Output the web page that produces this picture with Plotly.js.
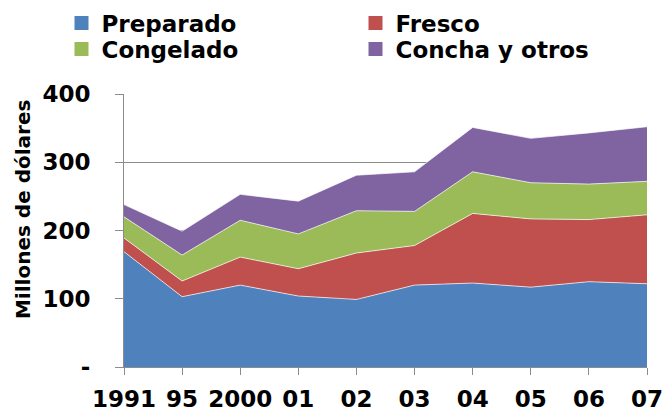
<!DOCTYPE html>
<html>
<head>
<meta charset="utf-8">
<script src="https://cdn.plot.ly/plotly-3.0.1.min.js"></script>
<style>
html,body{margin:0;padding:0;background:#fff;}
#chart{width:662px;height:414px;}
</style>
</head>
<body>
<div id="chart"></div>
<script>
var categories = ['1991', '95', '2000', '01', '02', '03', '04', '05', '06', '07'];
var preparado = [169, 103, 120, 104, 99, 120, 123, 117, 125, 122];
var fresco = [20, 23, 41, 40, 68, 58, 102, 100, 91, 101];
var congelado = [31, 38, 54, 51, 62, 50, 61, 53, 52, 49];
var concha = [18, 35, 38, 48, 52, 58, 65, 65, 75, 80];
var seriesNames = ['Preparado', 'Fresco', 'Congelado', 'Concha y otros'];
var yTickVals = [0, 100, 200, 300, 400];
var yTickText = ['-', '100', '200', '300', '400'];
var yTitle = 'Millones de dólares';

var colors = ['#4F81BD', '#C0504D', '#9BBB59', '#8064A2'];
var seriesValues = [preparado, fresco, congelado, concha];
var legendRows = ['legend', 'legend', 'legend2', 'legend2'];

var FONT = 'DejaVu Sans, Verdana, sans-serif';
var GRAY = '#8c8c8c';

var traces = [];
seriesValues.forEach(function (vals, i) {
  traces.push({
    type: 'scatter',
    mode: 'lines',
    x: categories,
    y: vals,
    stackgroup: 'one',
    name: seriesNames[i],
    line: {color: 'rgba(255,255,255,0.85)', width: 0.8},
    fillcolor: colors[i],
    showlegend: false,
    hoverinfo: 'x+y+name'
  });
});
// legend entries (square swatches)
seriesValues.forEach(function (vals, i) {
  traces.push({
    type: 'scatter',
    mode: 'markers',
    x: [null],
    y: [null],
    name: seriesNames[i],
    legend: legendRows[i],
    marker: {symbol: 'square', size: 14, color: colors[i]},
    showlegend: true,
    hoverinfo: 'skip'
  });
});

function legendRow(yPaper) {
  return {
    orientation: 'h',
    x: -0.1195,
    xanchor: 'left',
    y: yPaper,
    yanchor: 'middle',
    entrywidth: 249,
    itemwidth: 30,
    bgcolor: 'rgba(0,0,0,0)',
    font: {family: FONT, size: 23, color: '#000', weight: 'bold'},
    traceorder: 'normal'
  };
}

var layout = {
  width: 662,
  height: 414,
  margin: {l: 124, r: 15, t: 94, b: 47, autoexpand: false},
  paper_bgcolor: '#ffffff',
  plot_bgcolor: '#ffffff',
  font: {family: FONT, size: 23, color: '#000', weight: 'bold'},
  showlegend: true,
  legend: legendRow(1.26),
  legend2: legendRow(1.165),
  xaxis: {
    type: 'category',
    range: [0, categories.length - 1],
    showline: true,
    linecolor: GRAY,
    linewidth: 1,
    ticks: 'outside',
    ticklen: 7,
    tickcolor: GRAY,
    showgrid: false,
    ticklabelstandoff: 4,
    tickfont: {family: FONT, size: 23, color: '#000', weight: 'bold'},
    automargin: false,
    fixedrange: true
  },
  yaxis: {
    range: [0, 400],
    tickmode: 'array',
    tickvals: yTickVals,
    ticktext: yTickText,
    showline: true,
    linecolor: GRAY,
    linewidth: 1,
    ticks: 'outside',
    ticklen: 8,
    tickcolor: GRAY,
    showgrid: true,
    gridcolor: GRAY,
    gridwidth: 1,
    zeroline: false,
    ticklabelstandoff: 20,
    tickfont: {family: FONT, size: 23, color: '#000', weight: 'bold'},
    automargin: false,
    fixedrange: true
  },
  annotations: [{
    text: yTitle,
    xref: 'paper',
    yref: 'paper',
    x: -0.1931,
    y: 0.575,
    xanchor: 'center',
    yanchor: 'middle',
    textangle: -90,
    showarrow: false,
    font: {family: FONT, size: 20, color: '#000', weight: 'bold'}
  }]
};

Plotly.newPlot('chart', traces, layout, {displayModeBar: false, staticPlot: true});
</script>
</body>
</html>
